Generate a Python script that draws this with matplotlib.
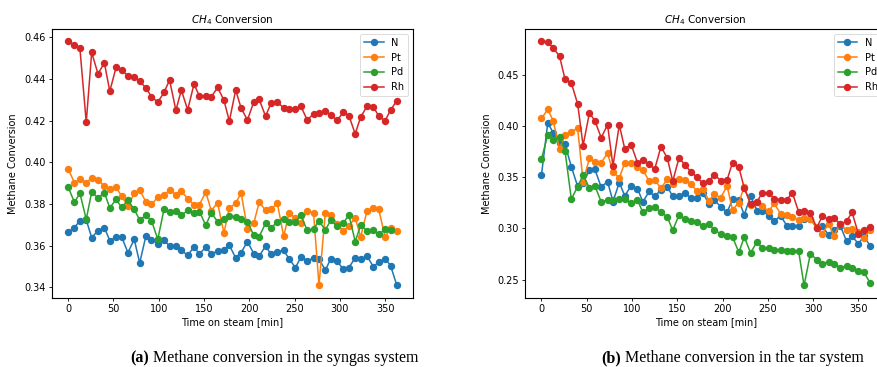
import matplotlib
matplotlib.use("Agg")
import matplotlib.pyplot as plt

times = [0, 7, 13, 20, 26, 33, 40, 46, 53, 59, 66, 73, 79, 86, 92, 99, 106, 112,
         119, 125, 132, 139, 145, 152, 158, 165, 172, 178, 185, 191, 198, 205, 211,
         218, 224, 231, 238, 244, 251, 257, 264, 271, 277, 284, 290, 297, 304, 310,
         317, 323, 330, 337, 343, 350, 356, 363]

labels = ["N", "Pt", "Pd", "Rh"]
NA = float("nan")

# (a) syngas system
syn_N = [0.3664, 0.3686, 0.3720, 0.3723, 0.3638, 0.3672, 0.3686, 0.3624, 0.3641, 0.3643,
         0.3566, 0.3630, 0.3516, 0.3648, 0.3629, 0.3609, 0.3625, 0.3598, 0.3600, 0.3577,
         0.3553, 0.3593, 0.3560, 0.3592, 0.3561, 0.3572, 0.3577, 0.3601, 0.3541, 0.3566,
         0.3619, 0.3561, 0.3549, 0.3598, 0.3558, 0.3571, 0.3577, 0.3536, 0.3494, 0.3544,
         0.3525, 0.3541, 0.3537, 0.3481, 0.3537, 0.3525, 0.3485, 0.3494, 0.3541, 0.3534,
         0.3549, 0.3499, 0.3520, 0.3537, 0.3504, 0.3408]
syn_Pt = [0.3968, 0.3902, 0.3918, 0.3902, 0.3925, 0.3917, 0.3885, 0.3873, 0.3880, 0.3838,
          0.3789, 0.3851, 0.3867, 0.3809, 0.3798, 0.3832, 0.3843, 0.3867, 0.3845, 0.3862,
          0.3825, 0.3797, 0.3797, 0.3857, 0.3768, 0.3805, 0.3661, 0.3779, 0.3803, 0.3853,
          0.3680, 0.3707, 0.3809, 0.3769, 0.3774, 0.3803, 0.3645, 0.3755, 0.3734, 0.3707,
          0.3766, 0.3757, 0.3409, 0.3758, 0.3745, 0.3705, 0.3669, 0.3694, 0.3733, 0.3641,
          0.3766, 0.3782, 0.3774, 0.3640, 0.3683, 0.3669]
syn_Pd = [0.3881, 0.3808, 0.3851, 0.3726, 0.3857, 0.3829, 0.3854, 0.3781, 0.3822, 0.3784,
          0.3817, 0.3774, 0.3723, 0.3745, 0.3720, 0.3630, 0.3777, 0.3761, 0.3768, 0.3745,
          0.3769, 0.3755, 0.3763, 0.3697, 0.3758, 0.3715, 0.3728, 0.3742, 0.3739, 0.3729,
          0.3715, 0.3649, 0.3643, 0.3707, 0.3683, 0.3715, 0.3729, 0.3715, 0.3715, 0.3745,
          0.3673, 0.3680, 0.3718, 0.3675, 0.3721, 0.3694, 0.3707, 0.3749, 0.3619, 0.3697,
          0.3672, 0.3673, 0.3654, 0.3678, 0.3677, NA]
syn_Rh = [0.4582, 0.4562, 0.4547, 0.4192, 0.4528, 0.4425, 0.4478, 0.4342, 0.4457, 0.4443,
          0.4416, 0.4411, 0.4390, 0.4357, 0.4315, 0.4289, 0.4337, 0.4395, 0.4250, 0.4347,
          0.4252, 0.4376, 0.4318, 0.4317, 0.4313, 0.4360, 0.4299, 0.4198, 0.4347, 0.4261,
          0.4203, 0.4291, 0.4302, 0.4222, 0.4283, 0.4288, 0.4262, 0.4256, 0.4256, 0.4270,
          0.4203, 0.4233, 0.4235, 0.4246, 0.4226, 0.4203, 0.4240, 0.4224, 0.4137, 0.4217,
          0.4269, 0.4267, 0.4222, 0.4200, 0.4250, 0.4297]

# (b) tar system
tar_N = [0.3520, 0.4032, 0.3935, 0.3838, 0.3822, 0.3604, 0.3410, 0.3442, 0.3572, 0.3578,
         0.3403, 0.3458, 0.3263, 0.3448, 0.3318, 0.3416, 0.3390, 0.3260, 0.3361, 0.3312,
         0.3377, 0.3409, 0.3312, 0.3312, 0.3351, 0.3296, 0.3296, 0.3351, 0.3240, 0.3273,
         0.3214, 0.3156, 0.3286, 0.3273, 0.3133, 0.3318, 0.3175, 0.3175, 0.3124, 0.3068,
         0.3124, 0.3026, 0.3026, 0.3026, 0.3091, 0.3091, 0.3004, 0.3020, 0.2939, 0.2987,
         0.3026, 0.2874, 0.2922, 0.2851, 0.2922, 0.2831]
tar_Pt = [0.4075, 0.4163, 0.4052, 0.3776, 0.3913, 0.3945, 0.3980, 0.3458, 0.3685, 0.3650,
          0.3643, 0.3734, 0.3555, 0.3491, 0.3643, 0.3637, 0.3604, 0.3572, 0.3461, 0.3474,
          0.3393, 0.3481, 0.3435, 0.3481, 0.3474, 0.3433, 0.3361, 0.3390, 0.3272, 0.3333,
          0.3300, 0.3416, 0.3182, 0.3253, 0.3409, 0.3231, 0.3263, 0.3221, 0.3166, 0.3247,
          0.3143, 0.3133, 0.3111, 0.3078, 0.3101, 0.3091, 0.3013, 0.2942, 0.3046, 0.2929,
          0.3046, 0.2981, 0.2994, 0.2961, 0.2903, 0.2987]
tar_Pd = [0.3676, 0.3916, 0.3864, 0.3896, 0.3760, 0.3286, 0.3409, 0.3523, 0.3393, 0.3416,
          0.3260, 0.3279, 0.3279, 0.3289, 0.3292, 0.3247, 0.3279, 0.3156, 0.3195, 0.3214,
          0.3156, 0.3111, 0.2981, 0.3133, 0.3091, 0.3068, 0.3058, 0.3026, 0.3046, 0.2981,
          0.2948, 0.2929, 0.2916, 0.2766, 0.2916, 0.2760, 0.2870, 0.2805, 0.2812, 0.2792,
          0.2792, 0.2779, 0.2779, 0.2779, 0.2442, 0.2753, 0.2695, 0.2656, 0.2675, 0.2656,
          0.2617, 0.2636, 0.2617, 0.2584, 0.2571, 0.2468]
tar_Rh = [0.4830, 0.4824, 0.4765, 0.4682, 0.4461, 0.4422, 0.4217, 0.3810, 0.4130, 0.4052,
          0.3887, 0.4013, 0.3611, 0.4013, 0.3778, 0.3820, 0.3643, 0.3670, 0.3630, 0.3578,
          0.3799, 0.3688, 0.3461, 0.3693, 0.3624, 0.3554, 0.3500, 0.3442, 0.3468, 0.3522,
          0.3468, 0.3474, 0.3643, 0.3598, 0.3393, 0.3240, 0.3260, 0.3351, 0.3344, 0.3292,
          0.3279, 0.3279, 0.3351, 0.3162, 0.3175, 0.3149, 0.3007, 0.3117, 0.3091, 0.3104,
          0.3039, 0.3072, 0.3156, 0.2948, 0.2987, 0.3013]

title_text = "$CH_4$ Conversion"
xlabel_text = "Time on steam [min]"
ylabel_text = "Methane Conversion"
captions = [("(a)", " Methane conversion in the syngas system"),
            ("(b)", " Methane conversion in the tar system")]

W, H = 877, 367
fig = plt.figure(figsize=(W / 100, H / 100), dpi=100)

colors = ["#1f77b4", "#ff7f0e", "#2ca02c", "#d62728"]
panels = [
    ([syn_N, syn_Pt, syn_Pd, syn_Rh], 51.7),
    ([tar_N, tar_Pt, tar_Pd, tar_Rh], 525.0),
]
ax_w = 361.6
ax_bottom = 297.7
ax_top = 29.0

fs = 7
axes = []
for k, (series, left) in enumerate(panels):
    ax = fig.add_axes([left / W, (H - ax_bottom) / H, ax_w / W, (ax_bottom - ax_top) / H])
    axes.append(ax)
    for vals, lab, c in zip(series, labels, colors):
        ax.plot(times, vals, marker="o", markersize=4.3, linewidth=1.1, color=c, label=lab)
    ax.set_title(title_text, fontsize=fs + 0.5, pad=4)
    ax.set_xlabel(xlabel_text, fontsize=fs, labelpad=2)
    ax.set_ylabel(ylabel_text, fontsize=fs, labelpad=4)
    ax.set_xticks([0, 50, 100, 150, 200, 250, 300, 350])
    ax.tick_params(labelsize=fs, length=2.5, width=0.6, pad=2)
    for sp in ax.spines.values():
        sp.set_linewidth(0.8)
    leg = ax.legend(loc="upper right", fontsize=fs, handlelength=2.0, borderpad=0.4,
                    labelspacing=0.5, handletextpad=0.8, framealpha=0.8)
    leg.get_frame().set_linewidth(0.6)
    if k == 0:
        ax.set_yticks([0.34, 0.36, 0.38, 0.40, 0.42, 0.44, 0.46])
        ax.set_yticklabels(["0.34", "0.36", "0.38", "0.40", "0.42", "0.44", "0.46"])
    else:
        ax.set_yticks([0.25, 0.30, 0.35, 0.40, 0.45])
        ax.set_yticklabels(["0.25", "0.30", "0.35", "0.40", "0.45"])

cap_x = [130, 601]
for (b, rest), cx in zip(captions, cap_x):
    t1 = fig.text(cx / W, 1 - 362 / H, b, fontsize=11.5, fontweight="bold",
                  family="Liberation Serif", va="baseline", ha="left")
    axes[0].annotate(rest, xy=(1, 0), xycoords=t1, va="bottom", ha="left",
                     fontsize=11.5, family="Liberation Serif", annotation_clip=False)

fig.savefig("out.png", dpi=100)
